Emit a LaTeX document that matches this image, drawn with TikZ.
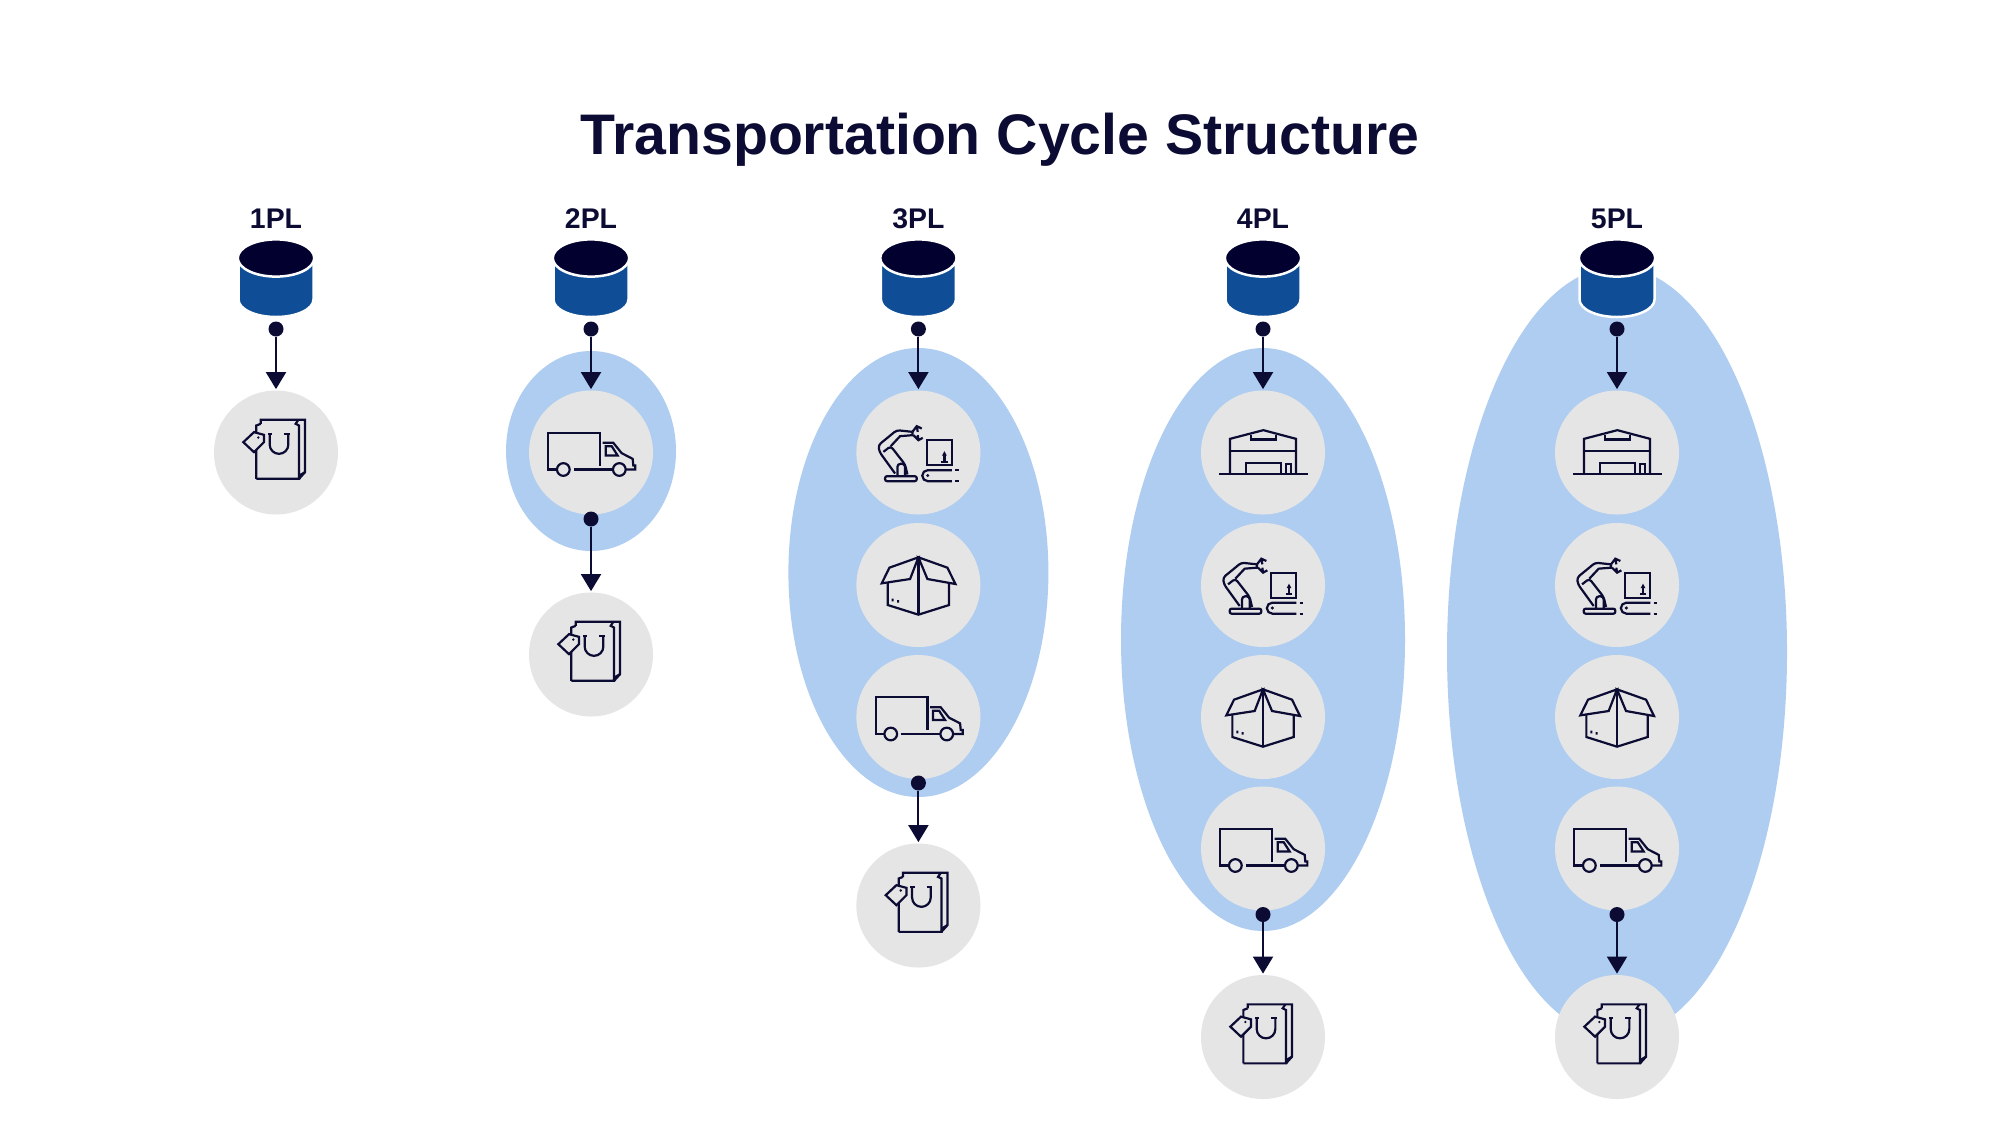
\documentclass[tikz,border=0pt]{standalone}
\usepackage{fontspec}
\setmainfont{Liberation Sans}
\usetikzlibrary{arrows.meta,shapes.geometric}
\definecolor{navy}{HTML}{0B0B33}
\definecolor{cyltop}{HTML}{02002F}
\definecolor{cylbody}{HTML}{0F4E96}
\definecolor{halo}{HTML}{AECDF0}
\definecolor{stagegray}{HTML}{E5E5E5}
\tikzset{
  stage/.style={circle,fill=stagegray,inner sep=0pt,minimum size=62pt},
  zone/.style={ellipse,fill=halo,inner sep=0pt},
  dotnode/.style={circle,fill=navy,inner sep=0pt,minimum size=7.5pt},
  flow/.style={draw=navy,line width=1pt,-{Triangle[width=10pt,length=8.5pt]},shorten >=0.5pt},
  plabel/.style={font=\bfseries\fontsize{14.2}{16}\selectfont,text=navy,inner sep=0pt},
  icon/.style={draw=navy,line width=1.1pt,line join=miter},
  zoomed/.style={x=0.16667pt,y=-0.16667pt},
  iconbag/.pic={\begin{scope}[zoomed,shift={(-231,-411)},icon]
    \draw (185,325)--(185,313)--(318,313)--(318,470)--(300,490);
    \draw (172,490)--(172,330)--(185,325);
    \draw (172,490)--(300,490)--(300,330)--(290,325)--(298,313);
    \draw (300,490)--(306,477)--(318,470);
    \draw[fill=stagegray] (133,380)--(165,350)--(195,358)--(195,380)--(165,410)--cycle;
    \fill[navy] (178,366) circle (4);
    \draw (207,355)--(220,355) (256,355)--(272,355);
    \draw (212,355)--(212,387) arc[start angle=180,end angle=0,radius=28]--(268,355);
  \end{scope}},
  icontruck/.pic={\begin{scope}[zoomed,shift={(-213,-216)},icon]
    \draw (240,255)--(240,157)--(85,157)--(85,267)--(111,267);
    \draw (130,267) circle (19);
    \draw (162,267)--(279,267);
    \draw (298,267) circle (19);
    \draw (248,187)--(280,187)--(305,218)--(338,235)--(340,255)--(346,255)--(346,267)--(332,267)--(317,267);
    \draw (257,197)--(275,197)--(293,225)--(257,225)--cycle;
  \end{scope}},
  iconrobot/.pic={\begin{scope}[zoomed,shift={(-205,-159)},icon]
    \draw[rounded corners=1pt] (105,245)--(105,230)--(200,230)--(200,245)--cycle;
    \draw[rounded corners=1.5pt] (142,230)--(142,193)--(165,193)--(165,230);
    \draw[rounded corners=1.5pt] (135,222)--(88,157)--(85,137)--(140,92)--(187,97);
    \draw[rounded corners=1.5pt] (172,225)--(165,195)--(122,140)--(100,157);
    \draw (122,140)--(150,110)--(187,107)--(187,97);
    \draw (187,97)--(200,80)--(215,87) (190,107)--(205,122)--(218,115) (200,80)--(203,97) (205,122)--(203,107);
    \draw (230,122) rectangle (305,197);
    \fill[navy] (283,155)--(276,168)--(290,168)--cycle;
    \draw (283,165)--(283,187) (273,187)--(293,187);
    \draw (305,212)--(233,212) arc[start angle=270,end angle=90,radius=16.5]--(305,245);
    \draw (315,212)--(326,212) (315,245)--(326,245);
    \fill[navy] (233,228) circle (5);
  \end{scope}},
  iconbox/.pic={\begin{scope}[zoomed,shift={(-205,-165)},icon]
    \draw (205,82)--(118,113)--(95,160)--(180,147)--cycle;
    \draw (205,82)--(292,113)--(316,162)--(232,147)--cycle;
    \draw (113,158)--(113,225)--(205,254)--(297,225)--(297,156);
    \draw (205,82)--(205,254);
    \fill[navy] (125,206) rectangle (131,214) (141,210) rectangle (147,218);
  \end{scope}},
  iconhouse/.pic={\begin{scope}[zoomed,shift={(-204,-174)},icon]
    \draw (72,238)--(338,238);
    \draw (105,238)--(105,133)--(205,107)--(303,133)--(303,238);
    \draw (105,170)--(303,170);
    \draw (167,120)--(167,135)--(242,135)--(242,120);
    \draw (152,238)--(152,205)--(258,205)--(258,238);
    \draw (272,238)--(272,208)--(288,208)--(288,238);
  \end{scope}},
  drum/.pic={
    \path[fill=cylbody,draw=white,line width=1.25pt]
      (-37.5,0)--(-37.5,41.5) arc[start angle=180,end angle=0,x radius=37.5,y radius=17.5]--(37.5,0)--cycle;
    \path[fill=cyltop,draw=white,line width=1.25pt] (0,0) ellipse[x radius=38.2,y radius=18.6];
  },
}
\begin{document}
\begin{tikzpicture}[x=0.5pt,y=-0.5pt]
\useasboundingbox (0,0) rectangle (2000,1125);
\fill[white] (0,0) rectangle (2000,1125);

\node[font=\bfseries\fontsize{28.6}{32}\selectfont,text=navy,inner sep=0pt] (title) at (1000,140) {Transportation Cycle Structure};

% zones
\node[zone,minimum width=85pt,minimum height=100pt] (zone2) at (591,451) {};
\node[zone,minimum width=130pt,minimum height=224.5pt] (zone3) at (918.4,572.5) {};
\node[zone,minimum width=142pt,minimum height=291.5pt] (zone4) at (1263,639.5) {};
\node[zone,minimum width=170pt,minimum height=385pt] (zone5) at (1617,652) {};

% labels and drums
\foreach \n/\x in {1/276,2/591,3/918.4,4/1263,5/1617}{
  \node[plabel,anchor=base] (label\n) at (\x,228) {\n PL};
  \pic at (\x,258) {drum};
}

% 1PL
\node[stage] (a1) at (276,452.5) {};
\node[dotnode] (dot1) at (276,329) {};
\pic at (a1) {iconbag};
\draw[flow] (dot1) -- (a1.north);

% 2PL
\node[stage] (b1) at (591,452.5) {};
\node[stage] (b2) at (591,654.5) {};
\node[dotnode] (dot2) at (591,329) {};
\node[dotnode] (dot2b) at (591,519) {};
\pic at (b1) {icontruck};
\pic at (b2) {iconbag};
\draw[flow] (dot2) -- (b1.north);
\draw[flow] (dot2b) -- (b2.north);

% 3PL
\node[stage] (c1) at (918.4,452.5) {};
\node[stage] (c2) at (918.4,585) {};
\node[stage] (c3) at (918.4,717) {};
\node[stage] (c4) at (918.4,905.5) {};
\node[dotnode] (dot3) at (918.4,329) {};
\node[dotnode] (dot3b) at (918.4,783) {};
\pic at (c1) {iconrobot};
\pic at (c2) {iconbox};
\pic at (c3) {icontruck};
\pic at (c4) {iconbag};
\draw[flow] (dot3) -- (c1.north);
\draw[flow] (dot3b) -- (c4.north);

% 4PL
\node[stage] (d1) at (1263,452.5) {};
\node[stage] (d2) at (1263,585) {};
\node[stage] (d3) at (1263,717) {};
\node[stage] (d4) at (1263,848.5) {};
\node[stage] (d5) at (1263,1037) {};
\node[dotnode] (dot4) at (1263,329) {};
\node[dotnode] (dot4b) at (1263,914.5) {};
\pic at (d1) {iconhouse};
\pic at (d2) {iconrobot};
\pic at (d3) {iconbox};
\pic at (d4) {icontruck};
\pic at (d5) {iconbag};
\draw[flow] (dot4) -- (d1.north);
\draw[flow] (dot4b) -- (d5.north);

% 5PL
\node[stage] (e1) at (1617,452.5) {};
\node[stage] (e2) at (1617,585) {};
\node[stage] (e3) at (1617,717) {};
\node[stage] (e4) at (1617,848.5) {};
\node[stage] (e5) at (1617,1037) {};
\node[dotnode] (dot5) at (1617,329) {};
\node[dotnode] (dot5b) at (1617,914.5) {};
\pic at (e1) {iconhouse};
\pic at (e2) {iconrobot};
\pic at (e3) {iconbox};
\pic at (e4) {icontruck};
\pic at (e5) {iconbag};
\draw[flow] (dot5) -- (e1.north);
\draw[flow] (dot5b) -- (e5.north);
\end{tikzpicture}
\end{document}
